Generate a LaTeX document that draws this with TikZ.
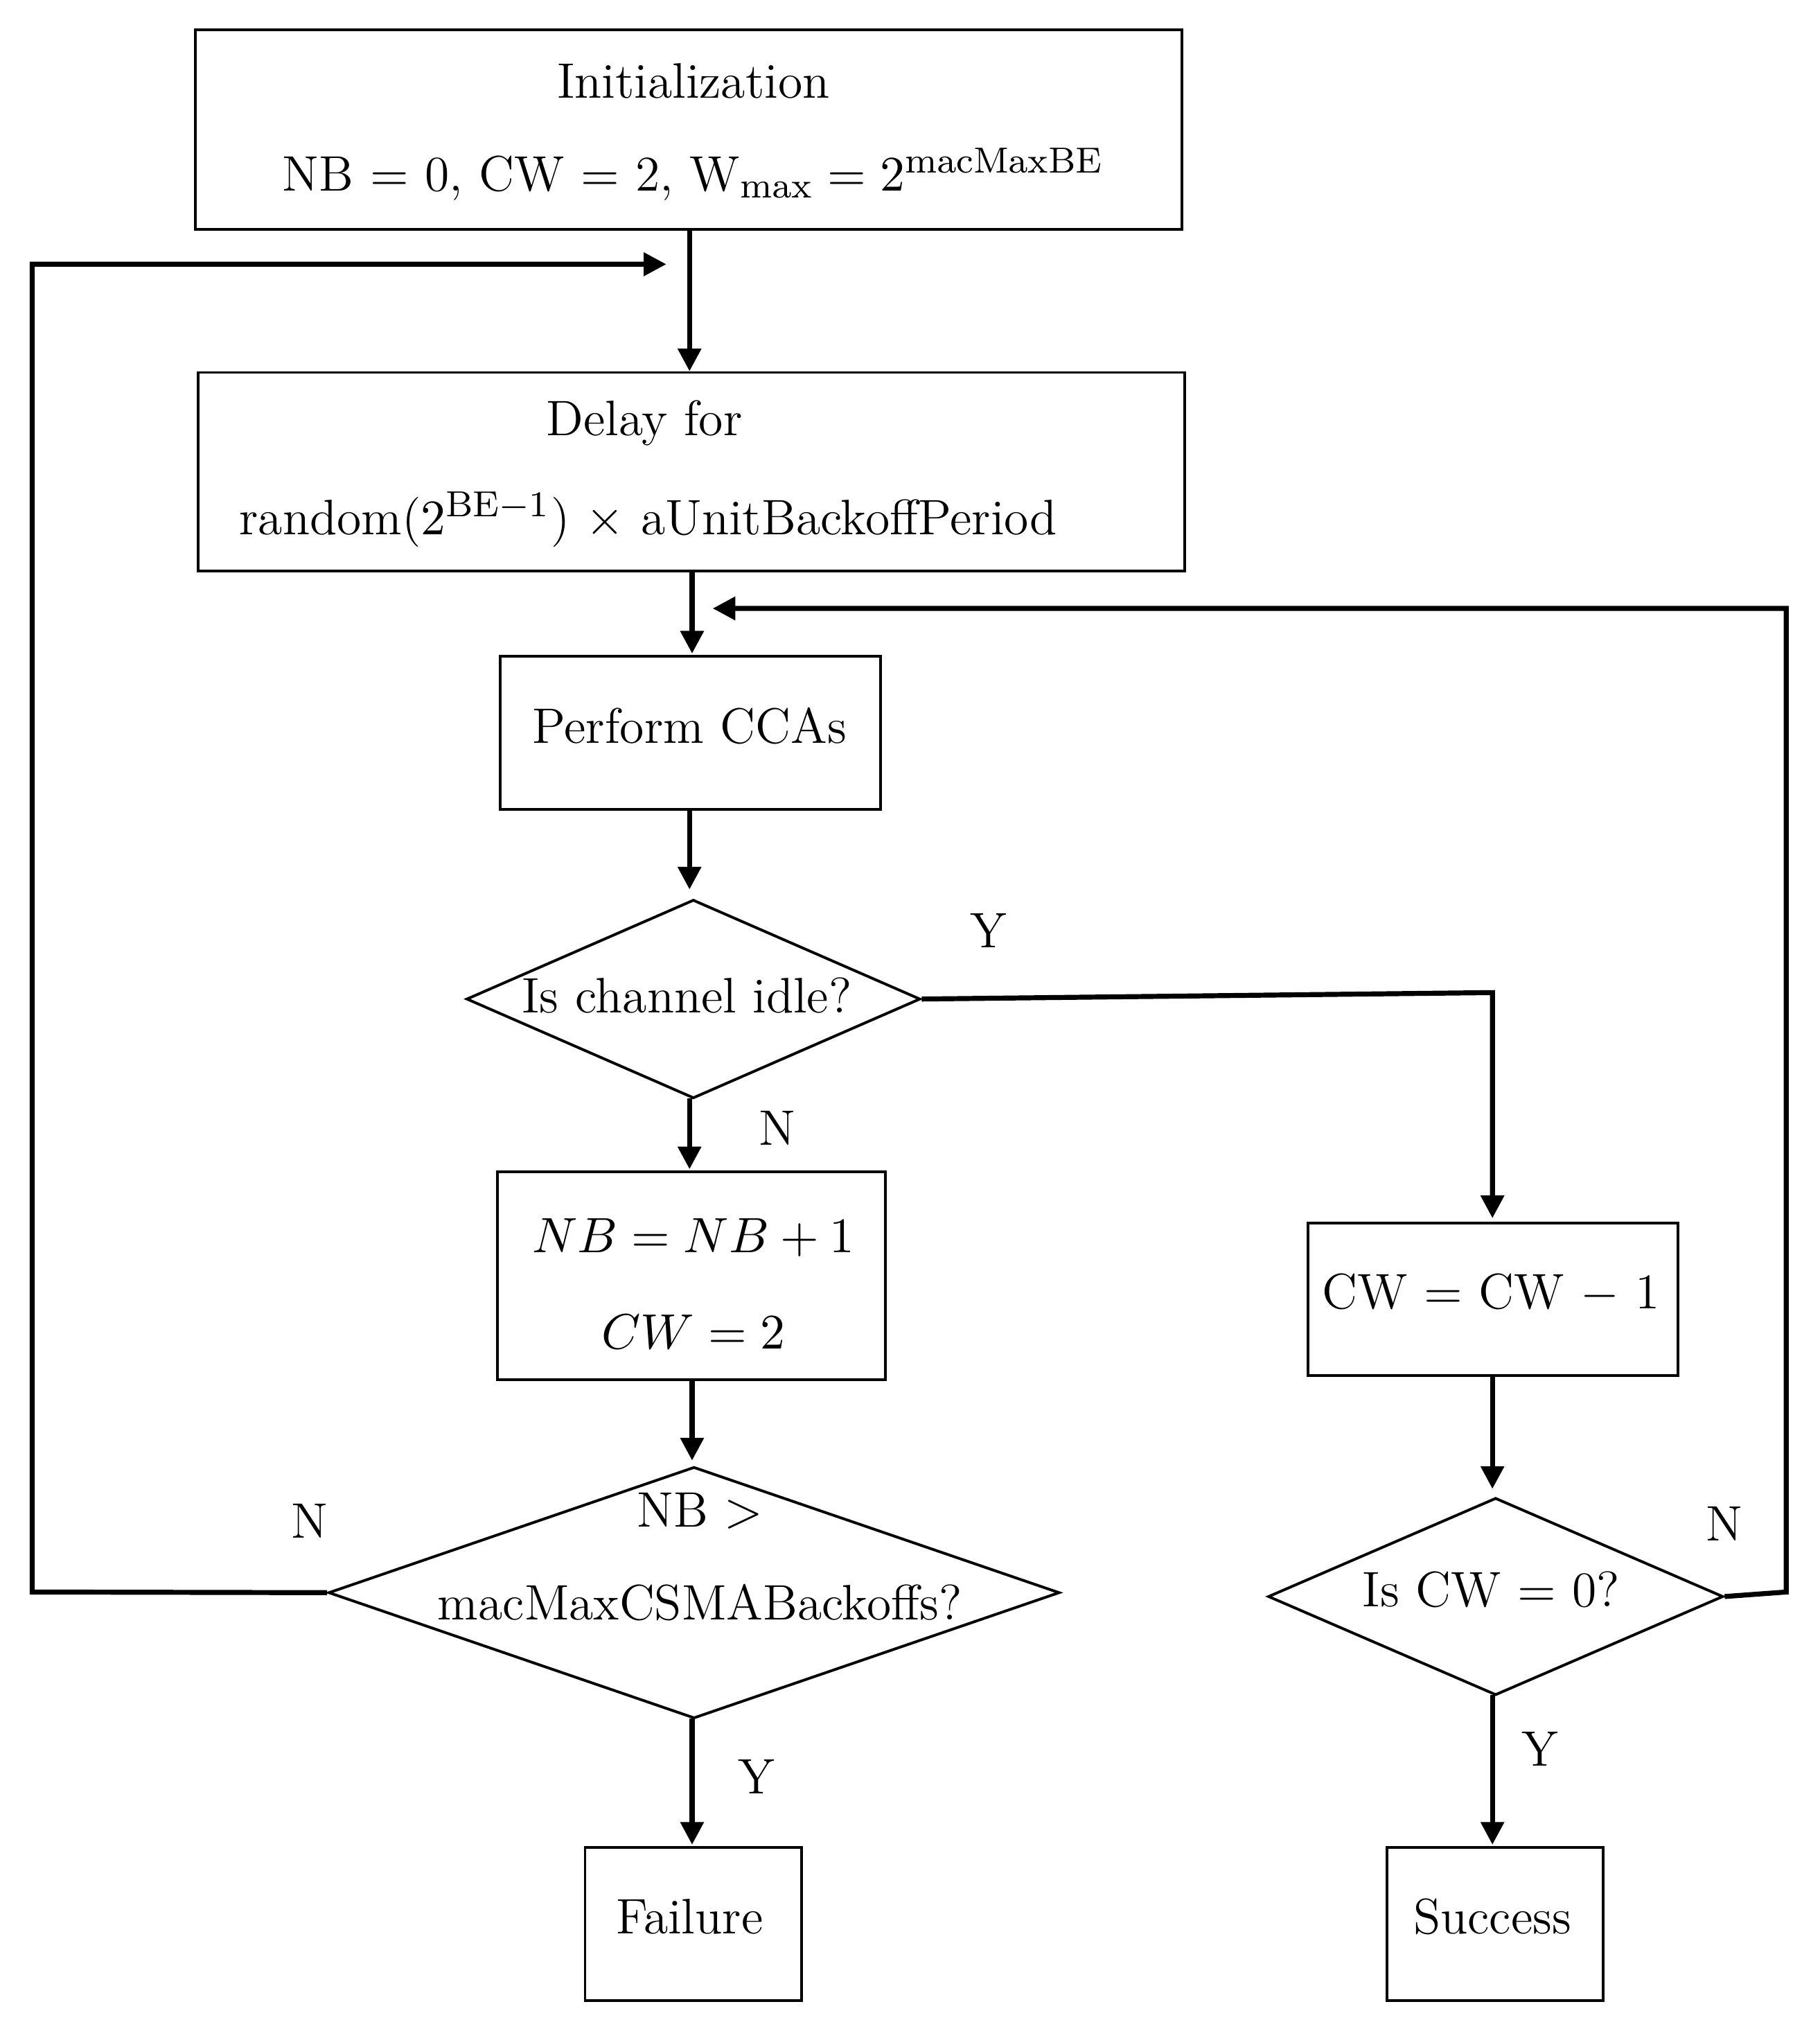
\documentclass[tikz,border=0pt]{standalone}
\usetikzlibrary{shapes.geometric,arrows.meta}
\begin{document}
\begin{tikzpicture}[x=0.01cm,y=-0.01cm,
  box/.style={draw,line width=0.6pt,rectangle,inner sep=0pt},
  dia/.style={draw,line width=0.6pt,diamond,inner sep=0pt},
  txt/.style={font=\fontsize{11}{13}\selectfont,inner sep=0pt},
  arr/.style={line width=1.1pt,-{Triangle[length=5pt,width=5pt]}},
  ln/.style={line width=1.1pt}]
\useasboundingbox (0,0) rectangle (1412,1574);
% boxes
\node[box,minimum width=7.65cm,minimum height=1.55cm] (init) at (534.5,100.5) {};
\node[txt] at (538,63) {Initialization};
\node[txt] at (538,135) {NB $=$ 0, CW $=$ 2, W$_{\mathrm{max}} = 2^{\mathrm{macMaxBE}}$};
\node[box,minimum width=7.65cm,minimum height=1.54cm] (delay) at (536.5,366) {};
\node[txt] at (500,328) {Delay for};
\node[txt] at (503,403) {random($2^{\mathrm{BE}-1}$) $\times$ aUnitBackoffPeriod};
\node[box,minimum width=2.95cm,minimum height=1.19cm] (cca) at (535.5,568.5) {};
\node[txt] at (535,563) {Perform CCAs};
\node[dia,minimum width=3.52cm,minimum height=1.54cm] (d1) at (538,775) {};
\node[txt] at (533,772) {Is channel idle?};
\node[box,minimum width=3.01cm,minimum height=1.61cm] (nb) at (536.5,989.5) {};
\node[txt] at (538,960) {$NB = NB+1$};
\node[txt] at (538,1033) {$CW = 2$};
\node[dia,minimum width=5.67cm,minimum height=1.95cm] (d2) at (538.5,1235.5) {};
\node[txt] at (543,1172) {NB $>$};
\node[txt] at (543,1243) {macMaxCSMABackoffs?};
\node[box,minimum width=1.68cm,minimum height=1.19cm] (fail) at (538,1492.5) {};
\node[txt] at (535,1487) {Failure};
\node[box,minimum width=2.87cm,minimum height=1.18cm] (cw) at (1158.5,1008) {};
\node[txt] at (1157,1003) {CW $=$ CW $-$ 1};
\node[dia,minimum width=3.53cm,minimum height=1.53cm] (d3) at (1160.5,1238.5) {};
\node[txt] at (1157,1233) {Is CW $=$ 0?};
\node[box,minimum width=1.68cm,minimum height=1.19cm] (succ) at (1160,1492.5) {};
\node[txt] at (1158,1487) {Success};
% labels
\node[txt] at (767,722) {Y};
\node[txt] at (603,875) {N};
\node[txt] at (240,1180) {N};
\node[txt] at (587,1378) {Y};
\node[txt] at (1338,1182) {N};
\node[txt] at (1195,1357) {Y};
% connectors
\coordinate (j1) at (517,205);
\coordinate (j2) at (553,472);
\draw[arr] (535,178) -- (535,288);
\draw[arr] (537,443) -- (537,507);
\draw[arr] (535,628) -- (535,690);
\draw[arr] (535,852) -- (535,907);
\draw[arr] (537,1070) -- (537,1133);
\draw[arr] (537,1333) -- (537,1431);
\draw[arr] (1158,1067) -- (1158,1155);
\draw[arr] (1158,1315) -- (1158,1431);
\draw[arr] (d1.east) -- (1158,770) -- (1158,945);
\draw[arr] (d2.west) -- (25,1235) -- (25,205) -- (j1);
\draw[arr] (d3.east) -- (1386,1235) -- (1386,472) -- (j2);
\end{tikzpicture}
\end{document}
